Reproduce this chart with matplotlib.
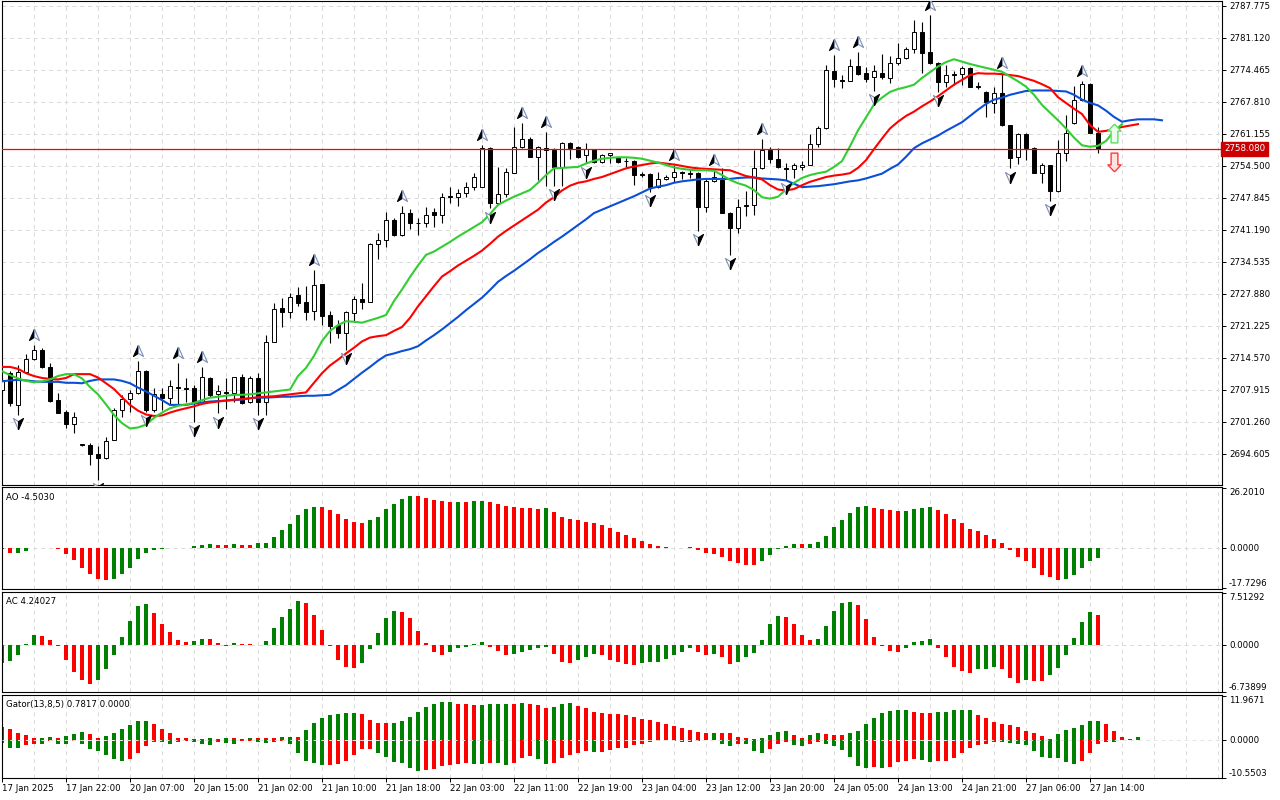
import numpy as np
import matplotlib.pyplot as plt
from matplotlib.path import Path
from matplotlib import transforms

# hourly bars, first bar 17 Jan 2025 14:00
opens = [2707.9, 2711.35, 2704.76, 2711.69, 2714.27, 2716.2, 2712.6, 2705.8, 2703.3, 2700.75,
         2696.65, 2696.5, 2694.57, 2693.67, 2697.48, 2703.72, 2705.95, 2707.19, 2711.83, 2703.72,
         2707.05, 2706.15, 2708.57, 2708.36, 2708.23, 2705.45, 2710.3, 2706.99, 2707.53, 2707.19,
         2710.65, 2705.45, 2710.3, 2705.45, 2717.93, 2724.87, 2724.17, 2727.64, 2726.25, 2724.37,
         2729.93, 2723.48, 2721.4, 2719.8, 2723.96, 2726.75, 2726.25, 2738.25, 2739.08, 2743.24,
         2740.12, 2744.63, 2742.68, 2742.55, 2744.84, 2744.28, 2748.23, 2748.09, 2748.92, 2750.17,
         2750.17, 2758.15, 2746.84, 2748.59, 2753.08, 2758.36, 2760.03, 2756.41, 2758.15, 2757.8,
         2754.33, 2759.32, 2758.36, 2756.76, 2757.95, 2755.37, 2756.76, 2756.28, 2755.57, 2755.57,
         2752.81, 2752.81, 2750.04, 2751.71, 2752.12, 2753.29, 2753.08, 2753.08, 2745.88, 2751.41,
         2751.56, 2744.76, 2741.51, 2746.36, 2746.36, 2753.99, 2757.8, 2755.87, 2754.12, 2753.78,
         2754.33, 2754.68, 2759.05, 2762.31, 2774.3, 2772.36, 2772.21, 2775.27, 2773.9, 2772.9,
         2773.9, 2772.71, 2775.86, 2776.9, 2778.77, 2782.43, 2778.27, 2775.96, 2772.0, 2773.6,
         2773.6, 2774.8, 2771.1, 2769.95, 2767.54, 2769.74, 2763.0, 2756.28, 2761.13, 2758.15,
         2753.08, 2754.68, 2749.33, 2757.1, 2763.35, 2768.2, 2771.5, 2761.4]
highs = [2710.4, 2711.9, 2713.08, 2715.37, 2717.24, 2716.55, 2713.43, 2707.19, 2703.72, 2703.37,
         2696.7, 2696.79, 2696.23, 2698.04, 2704.07, 2706.84, 2707.88, 2713.91, 2712.04, 2708.23,
         2708.23, 2709.96, 2713.43, 2710.3, 2708.92, 2712.6, 2710.65, 2708.92, 2710.3, 2710.65,
         2711.21, 2710.79, 2711.48, 2719.32, 2726.04, 2726.95, 2728.12, 2729.24, 2729.51, 2732.84,
         2729.93, 2724.37, 2722.44, 2724.37, 2727.43, 2730.07, 2738.52, 2740.47, 2744.97, 2743.59,
         2746.15, 2745.47, 2743.59, 2745.88, 2745.67, 2748.92, 2750.04, 2749.63, 2751.21, 2752.95,
         2758.84, 2758.49, 2754.33, 2753.99, 2762.52, 2763.35, 2760.57, 2758.63, 2761.6, 2758.15,
         2759.53, 2759.53, 2758.63, 2759.32, 2758.0, 2756.97, 2757.15, 2756.41, 2756.07, 2755.72,
         2753.29, 2753.08, 2753.29, 2752.6, 2754.68, 2753.49, 2753.64, 2753.29, 2751.91, 2753.64,
         2753.99, 2744.97, 2747.55, 2749.34, 2757.8, 2760.03, 2758.49, 2758.15, 2755.03, 2755.03,
         2755.57, 2761.13, 2762.79, 2775.48, 2777.58, 2773.4, 2776.67, 2778.27, 2775.15, 2775.48,
         2777.77, 2777.35, 2780.14, 2779.3, 2784.86, 2784.5, 2785.9, 2776.17, 2775.48, 2774.3,
         2775.27, 2775.13, 2772.0, 2770.16, 2770.86, 2773.9, 2763.0, 2761.3, 2761.3, 2758.49,
         2755.2, 2754.7, 2759.88, 2765.1, 2771.1, 2772.2, 2771.7, 2762.5]
lows = [2707.3, 2704.55, 2702.68, 2711.6, 2714.12, 2712.39, 2705.45, 2703.03, 2699.91, 2699.0,
        2696.3, 2692.28, 2689.16, 2693.6, 2697.4, 2702.2, 2703.37, 2707.1, 2703.37, 2703.37,
        2703.72, 2704.97, 2704.97, 2705.45, 2701.29, 2705.4, 2706.49, 2703.03, 2703.87, 2705.45,
        2704.97, 2705.24, 2702.68, 2702.68, 2717.8, 2721.05, 2722.79, 2725.35, 2722.44, 2722.44,
        2721.4, 2717.72, 2718.63, 2716.2, 2722.09, 2724.67, 2726.2, 2735.07, 2737.69, 2740.0,
        2740.0, 2741.31, 2740.12, 2741.85, 2741.85, 2742.68, 2746.84, 2746.15, 2748.09, 2749.48,
        2750.1, 2745.67, 2746.36, 2748.09, 2753.0, 2758.3, 2756.28, 2751.56, 2750.31, 2750.31,
        2750.31, 2755.87, 2756.07, 2755.03, 2755.03, 2755.03, 2755.03, 2755.03, 2754.33, 2750.52,
        2752.12, 2749.13, 2750.0, 2751.56, 2751.21, 2751.71, 2751.91, 2741.01, 2744.97, 2751.21,
        2744.7, 2735.96, 2740.47, 2744.07, 2744.28, 2753.9, 2755.03, 2754.0, 2751.56, 2751.91,
        2753.64, 2754.6, 2758.36, 2762.2, 2770.87, 2770.66, 2772.1, 2773.4, 2772.0, 2770.13,
        2772.53, 2771.7, 2775.5, 2776.7, 2777.9, 2773.78, 2775.69, 2769.93, 2770.84, 2771.32,
        2771.32, 2770.84, 2770.43, 2764.6, 2765.56, 2762.8, 2754.0, 2755.0, 2755.72, 2752.95,
        2750.9, 2747.25, 2749.13, 2755.6, 2763.2, 2768.1, 2761.3, 2757.1]
closes = [2710.0, 2705.1, 2711.69, 2714.27, 2716.2, 2712.6, 2705.65, 2703.16, 2700.75, 2702.33,
          2696.38, 2694.5, 2693.67, 2697.33, 2703.72, 2705.95, 2707.19, 2711.83, 2703.72, 2707.05,
          2706.15, 2708.71, 2708.23, 2708.09, 2705.45, 2710.52, 2706.84, 2707.61, 2707.19, 2710.52,
          2705.24, 2710.3, 2705.45, 2717.93, 2724.67, 2724.17, 2727.29, 2726.04, 2724.17, 2729.72,
          2723.27, 2721.19, 2719.8, 2724.04, 2726.75, 2726.25, 2738.25, 2739.08, 2743.24, 2740.12,
          2744.63, 2742.68, 2742.55, 2744.28, 2744.28, 2748.09, 2748.09, 2748.92, 2750.17, 2752.12,
          2758.15, 2746.84, 2748.59, 2753.29, 2758.36, 2760.03, 2756.41, 2758.36, 2757.8, 2754.33,
          2759.32, 2758.15, 2756.41, 2757.95, 2755.37, 2756.76, 2757.11, 2755.37, 2755.45, 2752.6,
          2752.66, 2750.04, 2751.71, 2752.12, 2753.29, 2753.08, 2752.81, 2745.88, 2751.41, 2752.12,
          2744.76, 2741.51, 2746.0, 2746.15, 2753.99, 2757.8, 2755.87, 2754.2, 2753.91, 2754.62,
          2754.68, 2759.05, 2762.31, 2774.44, 2772.53, 2772.21, 2775.27, 2773.6, 2772.53, 2774.3,
          2772.9, 2775.86, 2776.9, 2778.77, 2782.43, 2778.06, 2775.96, 2772.0, 2773.4, 2773.4,
          2774.8, 2770.97, 2770.84, 2767.87, 2769.74, 2763.0, 2756.1, 2761.13, 2758.15, 2753.08,
          2754.68, 2749.33, 2757.1, 2761.4, 2768.2, 2771.5, 2761.4, 2758.08]

# Alligator lines (already shifted forward: jaw 8, teeth 5, lips 3)
jaw = [2709.7, 2709.9, 2710.0, 2709.9, 2709.7, 2709.6, 2709.6, 2709.6, 2709.4, 2709.4,
       2709.3, 2709.8, 2710.1, 2710.1, 2710.1, 2709.8, 2709.3, 2708.4, 2707.6, 2706.7,
       2705.8, 2704.8, 2704.8, 2704.8, 2705.1, 2705.3, 2705.5, 2705.6, 2705.7, 2705.8,
       2705.9, 2706.2, 2706.3, 2706.3, 2706.4, 2706.5, 2706.5, 2706.6, 2706.7, 2706.7,
       2706.8, 2706.9, 2707.9, 2708.9, 2710.2, 2711.5, 2712.7, 2714.0, 2715.1, 2715.5,
       2716.0, 2716.4, 2717.0, 2718.2, 2719.3, 2720.5, 2721.8, 2723.1, 2724.5, 2725.8,
       2727.1, 2728.7, 2730.4, 2731.6, 2732.7, 2733.9, 2735.1, 2736.4, 2737.5, 2738.7,
       2739.8, 2741.0, 2742.2, 2743.4, 2744.7, 2745.4, 2746.1, 2746.8, 2747.5, 2748.2,
       2749.0, 2749.8, 2750.2, 2750.5, 2751.0, 2751.3, 2751.5, 2751.7, 2751.8, 2751.8,
       2751.8, 2751.8, 2752.0, 2752.1, 2752.1, 2751.9, 2751.8, 2751.7, 2751.5, 2750.8,
       2750.1, 2750.2, 2750.3, 2750.5, 2750.7, 2751.0, 2751.3, 2751.5, 2751.9, 2752.4,
       2752.9, 2753.9, 2754.8, 2756.4, 2758.2, 2759.2, 2760.0, 2760.8, 2761.8, 2762.7,
       2763.6, 2764.9, 2766.2, 2767.4, 2768.3, 2768.7, 2769.3, 2769.7, 2770.1, 2770.2,
       2770.2, 2770.2, 2770.1, 2770.0, 2769.3, 2768.3, 2767.6, 2767.1, 2766.0, 2764.7,
       2763.7, 2764.0, 2764.2, 2764.2, 2764.2, 2764.0]
teeth = [2712.7, 2712.7, 2712.3, 2711.4, 2710.8, 2710.4, 2710.2, 2710.1, 2710.4, 2711.2,
         2711.2, 2711.2, 2710.5, 2709.3, 2708.1, 2706.4, 2704.8, 2703.6, 2702.8, 2702.5,
         2702.6, 2703.2, 2703.7, 2704.1, 2704.5, 2705.0, 2705.3, 2705.5, 2705.7, 2705.9,
         2706.0, 2706.2, 2706.4, 2706.5, 2706.6, 2706.8, 2707.0, 2707.2, 2707.4, 2709.4,
         2711.4, 2713.0, 2714.2, 2715.5, 2716.7, 2718.0, 2718.8, 2719.1, 2719.3, 2720.2,
         2721.0, 2722.9, 2725.3, 2727.4, 2729.5, 2731.5, 2732.6, 2733.8, 2734.8, 2735.8,
         2736.9, 2738.3, 2739.8, 2741.0, 2742.1, 2743.2, 2744.3, 2745.4, 2746.9, 2748.0,
         2749.4, 2750.4, 2751.0, 2751.3, 2751.8, 2752.2, 2752.8, 2753.4, 2754.0, 2754.4,
         2754.7, 2755.0, 2755.2, 2755.0, 2754.8, 2754.5, 2754.2, 2754.0, 2753.9, 2753.8,
         2753.7, 2753.6, 2753.0, 2752.4, 2752.1, 2751.7, 2750.5, 2749.6, 2749.4, 2749.7,
         2750.5, 2751.2, 2751.7, 2752.2, 2752.5, 2752.7, 2753.0, 2754.1, 2755.7, 2758.0,
         2760.2, 2762.3, 2763.7, 2764.9, 2765.8, 2766.9, 2767.9, 2769.0, 2770.2, 2771.4,
         2772.4, 2773.4, 2773.8, 2773.7, 2773.7, 2773.6, 2773.4, 2773.2, 2772.7, 2772.2,
         2771.5, 2770.7, 2768.8, 2767.6, 2766.4, 2765.3, 2763.0, 2761.6, 2761.8, 2762.2,
         2762.6, 2762.9, 2763.2]
lips = [2711.8, 2711.0, 2710.3, 2709.8, 2709.5, 2709.7, 2710.1, 2710.8, 2711.2, 2711.2,
        2710.3, 2708.5, 2707.0, 2704.9, 2702.7, 2701.0, 2699.9, 2700.1, 2700.7, 2702.1,
        2703.2, 2704.1, 2704.6, 2704.9, 2705.2, 2705.8, 2706.3, 2706.5, 2706.7, 2706.9,
        2706.9, 2707.0, 2707.2, 2707.4, 2707.6, 2707.8, 2708.0, 2710.8, 2712.5, 2715.0,
        2718.1, 2720.2, 2721.4, 2722.2, 2722.1, 2721.9, 2722.4, 2722.9, 2723.5, 2726.4,
        2728.8, 2731.4, 2733.8, 2736.0, 2736.7, 2737.7, 2738.7, 2739.8, 2740.8, 2741.8,
        2742.8, 2744.5, 2746.4, 2747.3, 2748.1, 2748.8, 2749.5, 2751.0, 2752.6, 2754.0,
        2754.1, 2754.2, 2754.3, 2755.0, 2755.6, 2756.0, 2756.2, 2756.3, 2756.3, 2756.2,
        2756.0, 2755.6, 2755.2, 2754.7, 2754.2, 2753.9, 2753.7, 2753.6, 2753.6, 2753.5,
        2752.6, 2751.6, 2750.9, 2750.4, 2749.5, 2748.0, 2747.7, 2748.1, 2749.6, 2751.0,
        2752.0, 2752.6, 2753.0, 2753.3, 2754.3, 2755.5, 2758.6, 2761.9, 2764.6, 2767.3,
        2768.7, 2769.9, 2770.5, 2770.9, 2771.4, 2772.8, 2774.0, 2775.2, 2776.1, 2776.7,
        2776.2, 2775.7, 2775.3, 2774.9, 2774.5, 2774.1, 2773.1, 2772.1, 2771.0, 2769.3,
        2767.2, 2765.6, 2764.0, 2762.3, 2760.4, 2758.8, 2758.5, 2758.7, 2759.7, 2761.7,
        2763.2]

fractal_up = [4, 17, 22, 25, 39, 50, 60, 65, 68, 84, 89, 95, 104, 107, 116, 125, 135]
fractal_down = [2, 12, 18, 24, 27, 32, 43, 61, 69, 73, 81, 87, 91, 98, 109, 117, 126, 131]

ao = [-0.7, -2.5, -2.45, -1.5, -0.2, -0.1, -0.15, -0.7, -3.0, -5.6,
      -9.1, -11.7, -13.9, -14.3, -13.9, -11.7, -9.1, -5.1, -2.5, -1.0,
      -0.6, -0.3, -0.35, -0.1, 0.6, 1.0, 1.5, 1.0, 0.9, 1.4,
      1.3, 1.2, 1.8, 2.2, 4.8, 7.5, 10.5, 14.5, 17.0, 18.0,
      17.9, 16.4, 14.6, 12.7, 11.4, 10.7, 12.0, 13.6, 16.8, 19.2,
      21.4, 22.7, 22.6, 21.8, 20.9, 20.5, 20.1, 20.15, 20.1, 20.5,
      20.55, 20.1, 19.2, 18.3, 17.9, 17.4, 17.35, 17.0, 17.4, 15.7,
      13.5, 12.6, 12.2, 11.3, 10.8, 10.0, 8.6, 6.9, 5.6, 4.2,
      2.9, 1.6, 0.7, 0.1, -0.2, -0.1, 0.05, -1.3, -2.6, -2.7,
      -4.0, -6.1, -7.0, -7.5, -7.6, -6.1, -3.1, -0.7, 0.7, 1.6,
      1.55, 1.65, 2.5, 5.1, 9.1, 12.2, 15.2, 17.9, 18.3, 17.4,
      17.0, 16.5, 16.1, 16.2, 17.0, 17.4, 17.9, 16.5, 14.8, 12.6,
      10.8, 8.2, 7.3, 5.6, 3.8, 2.0, -1.0, -4.0, -6.1, -8.8,
      -11.9, -13.2, -14.1, -14.0, -11.9, -9.2, -6.1, -4.503]
ac = [-2.6, -2.3, -1.4, 0.15, 1.4, 1.3, 0.7, -0.15, -2.1, -3.9,
      -5.1, -5.6, -5.0, -3.4, -1.4, 1.1, 3.4, 5.6, 5.9, 4.6,
      3.0, 1.9, 0.7, 0.45, 0.5, 0.9, 0.85, 0.3, -0.1, 0.3,
      0.15, 0.1, 0.05, 0.6, 2.4, 4.0, 5.1, 6.3, 6.1, 4.3,
      2.1, -0.15, -2.1, -3.1, -3.3, -2.6, -0.6, 1.7, 3.9, 4.9,
      4.7, 3.9, 2.0, 0.3, -1.0, -1.4, -1.0, -0.5, -0.3, 0.15,
      0.45, -0.25, -0.8, -1.5, -1.25, -1.0, -0.7, -0.5, -0.25, -1.25,
      -2.5, -2.55, -2.1, -1.7, -1.25, -1.4, -2.1, -2.5, -2.8, -2.85,
      -2.65, -2.5, -2.4, -1.95, -1.4, -0.95, -0.4, -0.95, -1.4, -1.25,
      -1.7, -2.8, -2.4, -1.8, -1.1, 0.7, 3.0, 4.1, 4.05, 3.0,
      1.4, 0.7, 0.85, 2.7, 4.9, 6.0, 6.15, 5.7, 3.7, 1.15,
      -0.15, -0.8, -0.95, -0.5, 0.45, 0.6, 0.85, -0.5, -1.7, -3.1,
      -3.7, -4.1, -3.5, -3.4, -3.1, -3.4, -4.7, -5.4, -5.1, -5.15,
      -5.25, -4.25, -3.25, -1.5, 1.0, 3.3, 4.7, 4.24027]
gator_up = [3.5, 3.0, 1.9, 1.35, 0.5, 0.55, 0.8, 0.55, 1.1, 1.6,
            2.2, 1.6, 0.55, 1.1, 1.9, 3.0, 4.1, 5.1, 5.15, 4.3,
            3.0, 1.9, 0.55, 0.3, 0.05, 0.25, 0.3, 0.25, 0.55, 0.5,
            0.25, 0.5, 0.45, 0.4, 0.35, 0.8, 0.85, 0.75, 2.7, 4.6,
            6.0, 6.8, 7.0, 7.3, 7.35, 7.0, 5.4, 4.6, 4.5, 4.6,
            5.1, 6.2, 7.6, 8.9, 9.8, 10.3, 10.35, 9.8, 9.75, 9.5,
            9.6, 9.8, 9.85, 9.9, 9.85, 10.0, 9.95, 9.5, 8.7, 8.9,
            9.8, 10.0, 9.2, 8.7, 7.6, 7.3, 7.05, 7.0, 6.8, 6.2,
            5.7, 5.4, 4.9, 4.3, 3.8, 3.25, 2.7, 2.2, 1.9, 1.95,
            1.9, 1.85, 0.8, 0.3, 0.25, 0.3, 1.35, 2.2, 2.45, 1.35,
            0.3, 1.35, 1.9, 1.6, 1.35, 1.3, 1.9, 2.45, 4.3, 6.0,
            7.3, 7.9, 8.1, 8.15, 7.6, 7.3, 7.25, 7.6, 7.65, 8.1,
            8.15, 8.2, 6.8, 6.0, 4.9, 4.3, 4.05, 3.5, 2.45, 1.9,
            1.1, 0.25, 1.6, 2.7, 3.25, 4.05, 5.1, 5.15, 4.3, 2.45,
            0.8, 0.05, 0.7817]
gator_down = [-0.9, -2.2, -2.4, -1.6, -1.1, -1.35, -0.3, -1.1, -1.15, -0.3,
              -1.35, -2.7, -3.25, -4.3, -5.4, -6.0, -5.4, -3.8, -1.9, -0.55,
              -0.8, -1.1, -0.55, -0.3, -0.8, -1.35, -1.4, -0.8, -0.85, -1.1,
              -0.5, -0.3, -0.8, -0.85, -0.8, -0.5, -1.1, -3.8, -6.0, -6.5,
              -7.0, -6.95, -6.8, -6.0, -4.3, -2.7, -2.6, -3.8, -4.9, -6.2,
              -6.5, -7.9, -8.7, -8.4, -8.1, -7.3, -7.0, -6.8, -6.5, -6.8,
              -6.85, -6.5, -6.55, -7.0, -6.5, -5.1, -4.6, -5.4, -6.8, -6.5,
              -5.1, -4.3, -3.8, -3.25, -3.5, -3.45, -3.0, -2.4, -2.2, -1.6,
              -1.35, -0.8, -0.3, -0.05, -0.3, -0.8, -0.55, -0.3, -0.05, -0.25,
              -1.35, -1.9, -1.1, -1.35, -3.25, -3.8, -2.7, -1.35, -0.55, -1.6,
              -1.9, -1.35, -0.8, -1.1, -1.9, -3.0, -4.9, -7.3, -7.9, -7.6,
              -7.9, -7.6, -6.2, -6.0, -5.4, -5.7, -6.2, -6.0, -5.9, -5.0,
              -3.8, -2.2, -1.6, -1.1, -0.75, -0.8, -0.85, -1.35, -1.4, -3.25,
              -4.9, -4.95, -5.1, -6.2, -6.8, -6.0, -3.8, -1.1, -0.55, -0.6,
              0.0]

price_ticks = [2787.775, 2781.120, 2774.465, 2767.810, 2761.155, 2754.500, 2747.845, 2741.190,
               2734.535, 2727.880, 2721.225, 2714.570, 2707.915, 2701.260, 2694.605]
time_labels = ['17 Jan 2025', '17 Jan 22:00', '20 Jan 07:00', '20 Jan 15:00', '21 Jan 02:00',
               '21 Jan 10:00', '21 Jan 18:00', '22 Jan 03:00', '22 Jan 11:00', '22 Jan 19:00',
               '23 Jan 04:00', '23 Jan 12:00', '23 Jan 20:00', '24 Jan 05:00', '24 Jan 13:00',
               '24 Jan 21:00', '27 Jan 06:00', '27 Jan 14:00']
last_price = 2758.080
signal_bar = 139
signal_buy = 2761.4
signal_sell = 2755.4

# right-hand scale of the oscillator windows (min, zero, max)
ao_scale = [-17.7296, 0.0, 26.2010]
ao_scale_labels = ['-17.7296', '0.0000', '26.2010']
ac_scale = [-6.73899, 0.0, 7.51292]
ac_scale_labels = ['-6.73899', '0.0000', '7.51292']
gator_scale = [-10.5503, 0.0, 11.9671]
gator_scale_labels = ['-10.5503', '0.0000', '11.9671']

GREEN = '#008000'
RED = '#ff0000'
GRID = '#d9d9d9'
FS = 6.2
W, H = 1280, 800

plt.rcParams['font.family'] = ['DejaVu Sans']
fig = plt.figure(figsize=(W / 100, H / 100), dpi=100)
fig.patch.set_facecolor('white')


def panel(top, bottom):
    ax = fig.add_axes([2 / W, 1 - bottom / H, 1220 / W, (bottom - top) / H])
    ax.set_xlim(0, 152.5)
    for s in ax.spines.values():
        s.set_linewidth(0.8)
    for gx in range(4, 153, 4):
        ax.axvline(gx, color=GRID, lw=0.7, ls=(0, (4, 4)), zorder=0)
    ax.tick_params(axis='x', bottom=False, labelbottom=False)
    ax.yaxis.tick_right()
    ax.tick_params(axis='y', direction='out', length=3, width=0.7, pad=2, labelsize=FS)
    return ax


def trend_colors(vals, first, use_abs=False):
    v = np.abs(vals) if use_abs else np.asarray(vals)
    cols = [first]
    for a, b in zip(v[:-1], v[1:]):
        cols.append(GREEN if b > a else RED)
    return cols


def side_scale(ax, vals, labels, lo, hi):
    ax.set_ylim(lo, hi)
    ax.set_yticks(vals)
    ax.set_yticklabels(labels)
    tl = ax.get_yticklabels()
    tl[0].set_va('bottom')
    tl[-1].set_va('top')


# ---------------- main price panel ----------------
ax = panel(1, 485)
ax.set_ylim(2688.14, 2788.81)
ax.set_yticks(price_ticks)
ax.set_yticklabels(['%.3f' % p for p in price_ticks])
for p in price_ticks:
    ax.axhline(p, color=GRID, lw=0.7, ls=(0, (4, 4)), zorder=0)

o = np.array(opens); h = np.array(highs); l = np.array(lows); c = np.array(closes)
x = np.arange(len(o))
bull = c >= o
ax.vlines(x, l, h, color='black', lw=0.8, zorder=3)
ax.bar(x, np.abs(c - o), bottom=np.minimum(o, c), width=0.62,
       color=np.where(bull, 'white', 'black'), edgecolor='black', linewidth=0.7, zorder=4)

ax.plot(np.arange(len(jaw)), jaw, color='#0a4fd6', lw=1.5, zorder=5)
ax.plot(np.arange(len(teeth)), teeth, color='#ff0000', lw=1.5, zorder=5)
ax.plot(np.arange(len(lips)), lips, color='#32cd32', lw=1.5, zorder=5)

ax.axhline(last_price, color='#ff0000', lw=0.9, zorder=6)

# fractal arrows: one dark half, one hollow half
left_up = Path([(0, 1), (0, -0.3), (-0.8, -0.8), (0, 1)])
right_up = Path([(0, 1), (0.8, -0.8), (0, -0.3), (0, 1)])
left_dn = Path([(0, -1), (-0.8, 0.8), (0, 0.3), (0, -1)])
right_dn = Path([(0, -1), (0, 0.3), (0.8, 0.8), (0, -1)])
up_tr = transforms.offset_copy(ax.transData, fig=fig, y=7.2, units='points')
dn_tr = transforms.offset_copy(ax.transData, fig=fig, y=-6.0, units='points')
fu = np.array(fractal_up); fd = np.array(fractal_down)
for pth, fc, ec in [(left_up, 'black', 'black'), (right_up, 'white', '#7f8fb0')]:
    ax.plot(fu, h[fu], ls='none', marker=pth, ms=9, mfc=fc, mec=ec, mew=0.8,
            transform=up_tr, zorder=7)
for pth, fc, ec in [(left_dn, 'white', '#7f8fb0'), (right_dn, 'black', 'black')]:
    ax.plot(fd, l[fd], ls='none', marker=pth, ms=9, mfc=fc, mec=ec, mew=0.8,
            transform=dn_tr, zorder=7)

# signal arrows
arrow_up = Path([(0, 1), (0.7, 0.25), (0.36, 0.25), (0.36, -1), (-0.36, -1),
                 (-0.36, 0.25), (-0.7, 0.25), (0, 1)])
arrow_dn = Path([(0, -1), (0.7, -0.25), (0.36, -0.25), (0.36, 1), (-0.36, 1),
                 (-0.36, -0.25), (-0.7, -0.25), (0, -1)])
ax.plot([signal_bar], [signal_buy], marker=arrow_up, ms=13.5, mfc='#eaffea', mec='#66d966',
        mew=1.0, ls='none', zorder=8)
ax.plot([signal_bar], [signal_sell], marker=arrow_dn, ms=13.5, mfc='#ffe2e2', mec='#ff3a3a',
        mew=1.0, ls='none', zorder=8)

ax.text(1.0016, last_price, '%.3f' % last_price, fontsize=FS, color='white', va='center',
        ha='left', transform=transforms.blended_transform_factory(ax.transAxes, ax.transData),
        bbox=dict(boxstyle='square,pad=0.3', fc='#cc0000', ec='#cc0000'), clip_on=False, zorder=10)

# ---------------- AO ----------------
ax_ao = panel(487, 589)
ax_ao.axhline(0, color=GRID, lw=0.7, ls=(0, (4, 4)), zorder=0)
ax_ao.bar(np.arange(len(ao)), ao, width=0.55, color=trend_colors(ao, RED), zorder=2)
side_scale(ax_ao, ao_scale, ao_scale_labels, -18.27, 26.66)
ax_ao.text(0.003, 0.90, 'AO %.4f' % ao[-1], transform=ax_ao.transAxes, fontsize=FS, va='center')

# ---------------- AC ----------------
ax_ac = panel(592, 692)
ax_ac.axhline(0, color=GRID, lw=0.7, ls=(0, (4, 4)), zorder=0)
ax_ac.bar(np.arange(len(ac)), ac, width=0.55, color=trend_colors(ac, GREEN), zorder=2)
side_scale(ax_ac, ac_scale, ac_scale_labels, -6.76, 7.61)
ax_ac.text(0.003, 0.90, 'AC %.5f' % ac[-1], transform=ax_ac.transAxes, fontsize=FS, va='center')

# ---------------- Gator ----------------
ax_g = panel(695, 778)
ax_g.bar(np.arange(len(gator_up)), gator_up, width=0.55,
         color=trend_colors(gator_up, RED), zorder=2)
ax_g.bar(np.arange(len(gator_down)), gator_down, width=0.55,
         color=trend_colors(gator_down, GREEN, use_abs=True), zorder=2)
ax_g.axhline(0, color='#e6e6e6', lw=0.7, ls=(0, (4, 4)), zorder=3)
side_scale(ax_g, gator_scale, gator_scale_labels, -10.6, 12.3)
ax_g.text(0.003, 0.885, 'Gator(13,8,5) %.4f %.4f' % (gator_up[-1], abs(gator_down[-1])),
          transform=ax_g.transAxes, fontsize=FS, va='center')

ax_g.tick_params(axis='x', bottom=True, labelbottom=True, direction='out', length=3,
                 width=0.7, pad=1.5, labelsize=FS)
ax_g.set_xticks(np.arange(0, 8 * len(time_labels), 8))
ax_g.set_xticklabels(time_labels, ha='left')

fig.savefig('out.png', dpi=100, facecolor='white')
